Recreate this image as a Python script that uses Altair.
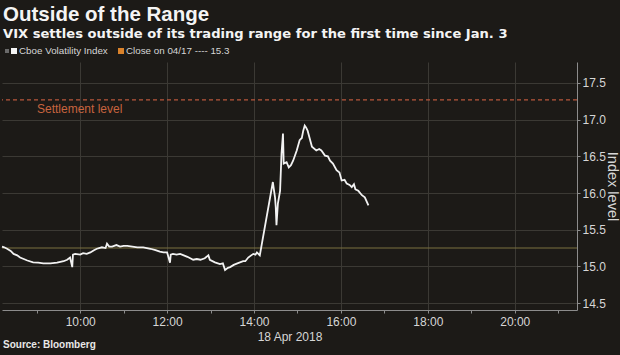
import altair as alt
import pandas as pd

# ---- data (18 Apr 2018, local time) ----
times = ["08:12", "08:15", "08:19", "08:24", "08:28", "08:33", "08:37", "08:42", "08:47", "08:55",
         "09:02", "09:09", "09:19", "09:28", "09:37", "09:42", "09:46", "09:49", "09:50", "09:53",
         "10:00", "10:04", "10:09", "10:14", "10:19", "10:23", "10:30", "10:35", "10:37", "10:40",
         "10:44", "10:50", "10:55", "11:00", "11:05", "11:12", "11:19", "11:27", "11:32", "11:37",
         "11:44", "11:50", "11:55", "12:00", "12:04", "12:05", "12:08", "12:13", "12:18", "12:23",
         "12:28", "12:36", "12:41", "12:46", "12:52", "12:57", "12:59", "13:06", "13:13", "13:17",
         "13:20", "13:24", "13:27", "13:32", "13:37", "13:45", "13:48", "13:52", "13:59", "14:02",
         "14:04", "14:08", "14:26", "14:28", "14:29", "14:30", "14:31", "14:33", "14:36", "14:38",
         "14:40", "14:41", "14:45", "14:48", "14:51", "14:54", "14:59", "15:03", "15:06", "15:08",
         "15:10", "15:12", "15:14", "15:20", "15:26", "15:30", "15:33", "15:38", "15:42", "15:45",
         "15:49", "15:54", "15:58", "16:01", "16:05", "16:08", "16:12", "16:15", "16:18", "16:20",
         "16:24", "16:29", "16:33", "16:38"]
vix = [15.27, 15.26, 15.24, 15.21, 15.17, 15.15, 15.12, 15.10, 15.08, 15.055,
       15.05, 15.04, 15.04, 15.05, 15.07, 15.09, 15.12, 14.99, 15.16, 15.17,
       15.16, 15.18, 15.17, 15.19, 15.22, 15.24, 15.26, 15.25, 15.31, 15.27,
       15.27, 15.29, 15.27, 15.28, 15.28, 15.27, 15.26, 15.26, 15.25, 15.24,
       15.22, 15.20, 15.19, 15.19, 15.05, 15.16, 15.17, 15.16, 15.17, 15.15,
       15.13, 15.09, 15.10, 15.09, 15.11, 15.15, 15.09, 15.055, 15.03, 15.04,
       14.95, 14.98, 14.99, 15.02, 15.04, 15.07, 15.07, 15.12, 15.17, 15.16,
       15.19, 15.15, 16.15, 16.01, 15.94, 15.81, 15.56, 15.86, 16.03, 16.54,
       16.81, 16.40, 16.42, 16.35, 16.38, 16.44, 16.58, 16.72, 16.75, 16.85,
       16.92, 16.89, 16.85, 16.63, 16.58, 16.60, 16.58, 16.51, 16.50, 16.44,
       16.40, 16.31, 16.28, 16.17, 16.18, 16.13, 16.11, 16.08, 16.12, 16.05,
       16.03, 15.97, 15.94, 15.83]
close_level = 15.25
settlement_level = 17.27

title_text = "Outside of the Range"
subtitle_text = "VIX settles outside of its trading range for the first time since Jan. 3"
legend_labels = ["Cboe Volatility Index", "Close on 04/17 ---- 15.3"]
settlement_label = "Settlement level"
source_text = "Source: Bloomberg"
x_title = "18 Apr 2018"
y_title = "Index level"
y_ticks = [14.5, 14.75, 15.0, 15.25, 15.5, 15.75, 16.0, 16.25, 16.5, 16.75, 17.0, 17.25, 17.5, 17.75]
x_tick_hours = list(range(9, 22))

df = pd.DataFrame({"time": ["2018-04-18T" + t + ":00" for t in times], "vix": vix})

BG = "#1c1a17"
GRID = "#3b3934"
TXT = "#d6d6d6"
AXIS = "#8c8c8c"
FONT = "Liberation Sans"

x_scale = alt.Scale(domain=[alt.DateTime(year=2018, month=4, date=18, hours=8, minutes=12),
                            alt.DateTime(year=2018, month=4, date=18, hours=21, minutes=26)])
y_scale = alt.Scale(domain=[14.405, 17.786], nice=False, zero=False)

x_axis = alt.Axis(
    values=[alt.DateTime(year=2018, month=4, date=18, hours=h) for h in x_tick_hours],
    labelExpr="hours(datum.value) % 2 == 0 ? timeFormat(datum.value, '%H:%M') : ''",
    title=x_title, titleFont=FONT, titleFontSize=12, titleFontWeight="normal",
    titleColor=TXT, titlePadding=4,
    labelFont=FONT, labelFontSize=12, labelColor=TXT, labelPadding=3,
    tickSize=3, tickColor=AXIS, domainColor=AXIS, domainWidth=1,
    gridColor=GRID, gridWidth=1,
    gridOpacity={"condition": {"test": "hours(datum.value) % 2 == 1", "value": 0}, "value": 1},
)
y_axis = alt.Axis(
    orient="right", values=y_ticks,
    labelExpr="(datum.value * 2) % 1 == 0 ? format(datum.value, '.1f') : ''",
    title=y_title, titleFont=FONT, titleFontSize=14.5, titleFontWeight="normal",
    titleColor=TXT, titleAngle=90, titleBaseline="bottom", titleX=27,
    labelFont=FONT, labelFontSize=12, labelColor=TXT, labelPadding=2,
    tickSize=3, tickColor=AXIS, domainColor=AXIS, domainWidth=1,
    gridColor=GRID, gridWidth=1,
    gridOpacity={"condition": {"test": "(datum.value * 2) % 1 != 0", "value": 0}, "value": 1},
)

line = alt.Chart(df).mark_line(color="#f2f2f2", strokeWidth=1.8, interpolate="linear").encode(
    x=alt.X("time:T", scale=x_scale, axis=x_axis),
    y=alt.Y("vix:Q", scale=y_scale, axis=y_axis),
)

close_rule = alt.Chart(pd.DataFrame({"v": [close_level]})).mark_rule(
    color="#7a7140", strokeWidth=1.2).encode(y=alt.Y("v:Q", scale=y_scale))
settle_rule = alt.Chart(pd.DataFrame({"v": [settlement_level]})).mark_rule(
    color="#b8573c", strokeWidth=1.2, strokeDash=[4, 3]).encode(y=alt.Y("v:Q", scale=y_scale))

settle_text = alt.Chart(pd.DataFrame({"t": [settlement_label]})).mark_text(
    font=FONT, fontSize=12, color="#c8643f", align="left", baseline="middle").encode(
    text="t:N", x=alt.value(35), y=alt.value(47))

title = alt.Chart(pd.DataFrame({"t": [title_text]})).mark_text(
    font=FONT, fontSize=20.5, fontWeight="bold", color="#f4f4f4", align="left",
    baseline="alphabetic").encode(text="t:N", x=alt.value(1), y=alt.value(-41))
subtitle = alt.Chart(pd.DataFrame({"t": [subtitle_text]})).mark_text(
    font="DejaVu Sans", fontSize=13.1, fontWeight="bold", color="#f4f4f4", align="left",
    baseline="alphabetic").encode(text="t:N", x=alt.value(1), y=alt.value(-24))

leg_sq0 = alt.Chart(pd.DataFrame({"k": [0]})).mark_square(size=16, color="#6a6a6a", opacity=1).encode(
    x=alt.value(5), y=alt.value(-11))
leg_sq1 = alt.Chart(pd.DataFrame({"k": [0]})).mark_square(size=36, color="#f4f4f4", opacity=1).encode(
    x=alt.value(12), y=alt.value(-11))
leg_sq2 = alt.Chart(pd.DataFrame({"k": [0]})).mark_square(size=36, color="#d9822b", opacity=1).encode(
    x=alt.value(119), y=alt.value(-11))
leg_t1 = alt.Chart(pd.DataFrame({"t": [legend_labels[0]]})).mark_text(
    font=FONT, fontSize=9.8, color=TXT, align="left", baseline="middle").encode(
    text="t:N", x=alt.value(17), y=alt.value(-11))
leg_t2 = alt.Chart(pd.DataFrame({"t": [legend_labels[1]]})).mark_text(
    font=FONT, fontSize=9.8, color=TXT, align="left", baseline="middle").encode(
    text="t:N", x=alt.value(124), y=alt.value(-11))

source = alt.Chart(pd.DataFrame({"t": [source_text]})).mark_text(
    font=FONT, fontSize=10, fontWeight="bold", color="#e8e8e8", align="left",
    baseline="middle").encode(text="t:N", x=alt.value(1), y=alt.value(283))

chart = alt.layer(
    close_rule, settle_rule, line, settle_text, title, subtitle,
    leg_sq0, leg_sq1, leg_sq2, leg_t1, leg_t2, source,
).properties(
    width=575, height=248,
    autosize=alt.AutoSizeParams(type="none"),
    padding={"left": 2, "top": 62, "right": 43, "bottom": 45},
).configure(background=BG).configure_view(strokeOpacity=0)

chart.save("out.html", embed_options={"renderer": "svg", "actions": False})
